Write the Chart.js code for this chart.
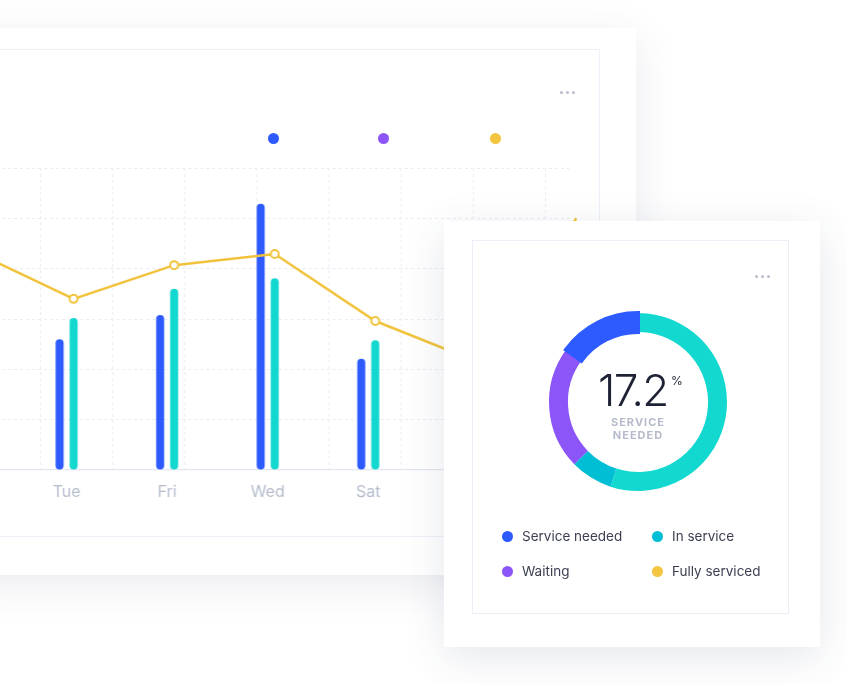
<!DOCTYPE html>
<html><head><meta charset="utf-8">
<script src="https://cdn.jsdelivr.net/npm/chart.js@4"></script>
<style>
html,body{margin:0;padding:0;background:#fff;width:847px;height:684px;overflow:hidden;font-family:Inter,"Open Sans",sans-serif;}
.abs{position:absolute;}
#card1{left:-40px;top:28px;width:676px;height:547px;background:#fff;box-shadow:0 10px 40px rgba(45,55,95,0.10);}
#box1{left:-40px;top:49px;width:638px;height:486px;border:1px solid #eef0f8;}
#c1wrap{left:-63.9px;top:140px;width:662.4px;height:370px;}
#card2{left:444px;top:221px;width:376px;height:426px;background:#fff;box-shadow:0 10px 40px rgba(45,55,95,0.12);z-index:5;}
#box2{left:472px;top:240px;width:315px;height:372px;border:1px solid #eceef7;z-index:6;}
#c2wrap{left:538px;top:302px;width:200px;height:200px;z-index:7;}
.dots{display:flex;gap:3px;}
.dots span{width:3px;height:3px;border-radius:50%;background:#b9bdcc;display:block;}
.ldot{width:11px;height:11px;border-radius:50%;}
.leg{z-index:8;font-size:13.5px;color:#3b3f51;display:flex;align-items:center;white-space:nowrap;}
.leg .ldot{margin-right:9px;}
#big{left:598px;top:368px;font-size:44px;font-weight:300;color:#1e2235;line-height:44px;letter-spacing:-1.5px;z-index:8;}
#pct{left:671px;top:373px;font-size:12px;color:#1e2235;z-index:8;}
#sub{left:538px;width:200px;top:416px;text-align:center;font-size:11px;font-weight:700;color:#b5bbcb;letter-spacing:1px;line-height:13px;z-index:8;}
</style></head>
<body>
<div id="card1" class="abs"></div>
<div id="box1" class="abs"></div>
<div class="abs dots" style="left:560px;top:91px;"><span></span><span></span><span></span></div>
<div class="abs ldot" style="left:268px;top:133px;background:#2e5bff"></div>
<div class="abs ldot" style="left:378px;top:133px;background:#8c55f7"></div>
<div class="abs ldot" style="left:490px;top:133px;background:#f3c540"></div>
<div id="c1wrap" class="abs"><canvas id="c1"></canvas></div>

<div id="card2" class="abs"></div>
<div id="box2" class="abs"></div>
<div class="abs dots" style="left:755px;top:275px;z-index:8"><span></span><span></span><span></span></div>
<div id="c2wrap" class="abs"><canvas id="c2"></canvas></div>
<div id="big" class="abs">17.2</div><div id="pct" class="abs">%</div>
<div id="sub" class="abs">SERVICE<br>NEEDED</div>
<div class="abs leg" style="left:502px;top:526px;height:20px"><div class="ldot" style="background:#2e5bff"></div>Service needed</div>
<div class="abs leg" style="left:652px;top:526px;height:20px"><div class="ldot" style="background:#00bed3"></div>In service</div>
<div class="abs leg" style="left:502px;top:561px;height:20px"><div class="ldot" style="background:#8c55f7"></div>Waiting</div>
<div class="abs leg" style="left:652px;top:561px;height:20px"><div class="ldot" style="background:#f3c540"></div>Fully serviced</div>

<script>
// ---- data ----
const days = ['Mon','Tue','Fri','Wed','Sat','Sun','Thu'];
const serviceNeeded = [null, 26.0, 30.8, 52.9, 22.1, null, null];
const inService = [null, 30.2, 36.0, 38.1, 25.8, null, null];
const fullyServiced = [43.5, 34.0, 40.7, 42.9, 29.6, 21.6, 50.0];
const yTicks = [0, 10, 20, 30, 40, 50, 60];

const statusLabels = ['Fully serviced', 'In service', 'Waiting', 'Service needed'];
const statusShares = [55.0, 7.7, 22.3, 15.0];

const BLUE = '#2e5bff', TEAL = '#12d8cf', CYAN = '#00bed3', PURPLE = '#8c55f7', YELLOW = '#f1c33d';

Chart.defaults.font.family = 'Inter, "Open Sans", sans-serif';
Chart.defaults.animation = false;

const barStyle = { borderRadius: 4, borderSkipped: false, categoryPercentage: 0.5578, barPercentage: 0.5714, order: 1, xAxisID: 'x' };

new Chart(document.getElementById('c1'), {
  type: 'bar',
  data: {
    labels: days,
    datasets: [
      { type: 'line', label: 'Fully serviced', data: fullyServiced.map((v, i) => ({ x: i, y: v })),
        xAxisID: 'xl', yAxisID: 'y', borderColor: YELLOW, borderWidth: 2.5, tension: 0,
        pointRadius: 4, pointBorderWidth: 2, pointBackgroundColor: '#fff', pointBorderColor: YELLOW,
        clip: false, order: 0 },
      Object.assign({ label: 'Service needed', data: serviceNeeded, backgroundColor: BLUE }, barStyle),
      Object.assign({ label: 'In service', data: inService, backgroundColor: TEAL }, barStyle)
    ]
  },
  options: {
    responsive: true, maintainAspectRatio: false,
    layout: { autoPadding: false, padding: { left: 30, right: 30, top: 28, bottom: 0 } },
    plugins: { legend: { display: false }, tooltip: { enabled: false } },
    scales: {
      x: { type: 'category', offset: false, position: 'bottom',
        grid: { display: false, drawTicks: false, offset: false },
        border: { display: true, color: '#e3e6f0', width: 1.2 },
        ticks: { color: '#b5bccc', font: { size: 16 }, padding: 13, maxRotation: 0, autoSkip: false },
        afterFit: s => { s.height = 40; } },
      xg: { type: 'linear', position: 'bottom', offset: false, min: -1.040, max: 7.327,
        ticks: { display: false, stepSize: 1, includeBounds: false },
        grid: { color: '#eaecf4', drawTicks: false, lineWidth: 1, offset: false },
        border: { display: false, dash: [3, 3] },
        afterFit: s => { s.height = 0; } },
      xl: { type: 'linear', display: false, offset: false, grid: { offset: false }, min: -0.0697, max: 5.9303 },
      y: { min: yTicks[0], max: yTicks[yTicks.length - 1],
        afterBuildTicks: s => { s.ticks = yTicks.map(v => ({ value: v })); },
        ticks: { display: false },
        grid: { color: c => c.tick && c.tick.value === 0 ? 'rgba(0,0,0,0)' : '#eaecf4', drawTicks: false },
        border: { display: false, dash: [3, 3] },
        afterFit: s => { s.width = 0; } }
    }
  }
});

new Chart(document.getElementById('c2'), {
  type: 'doughnut',
  data: {
    labels: statusLabels,
    datasets: [{
      data: statusShares,
      backgroundColor: [TEAL, CYAN, PURPLE, BLUE],
      borderColor: [TEAL, CYAN, PURPLE, BLUE],
      borderWidth: [0, 0, 0, 4],
      borderJoinStyle: 'miter'
    }]
  },
  options: {
    responsive: true, maintainAspectRatio: false,
    radius: 89, cutout: '78.7%',
    layout: { padding: 0 },
    plugins: { legend: { display: false }, tooltip: { enabled: false } }
  }
});
</script>
</body></html>
